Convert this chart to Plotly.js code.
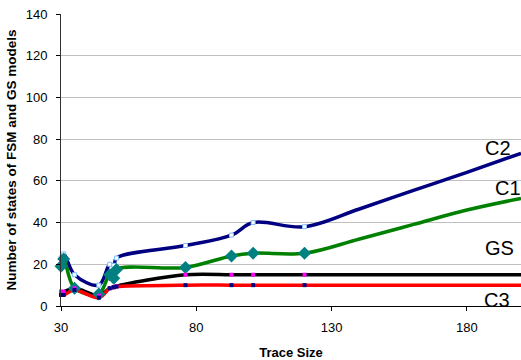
<!DOCTYPE html>
<html>
<head>
<meta charset="utf-8">
<script src="https://cdn.plot.ly/plotly-3.0.1.min.js"></script>
<style>
  html, body { margin: 0; padding: 0; background: #fff; }
  #chart { width: 521px; height: 360px; }
</style>
</head>
<body>
<div id="chart"></div>
<script>
// Trace sizes (x values)
const traceSizes = [30, 31, 35, 44, 48, 49.5, 50.5, 76, 93, 101, 120, 140, 160, 180, 200];
// Number of measured points that carry markers
const markedCount = 11;
// Series values
const c2 = [23, 25, 15, 10, 20, 19.5, 23, 29, 34, 40, 38, 46.4, 55.3, 64.1, 73.2];
const c1 = [19, 22.5, 8.5, 5.8, 15, 13.3, 17.5, 18.5, 24, 25.3, 25.3, 32, 39, 46, 51.6];
const gs = [6.9, 6.9, 8.5, 5, 8.5, 9, 9.5, 15, 15, 15, 15, 15, 15, 15, 15];
const c3 = [5.3, 5.3, 7.7, 4, 8.5, 9, 9.3, 10, 10, 10, 10, 10, 10, 10, 10];
// Series labels
const seriesNames = ['C2', 'C1', 'GS', 'C3'];
const labelX = [191.5, 195.2, 191.9, 191.1];
const labelY = [75.8, 56.6, 27.8, 2.9];
// Axis tick labels
const yTicks = [0, 20, 40, 60, 80, 100, 120, 140];
const xTicks = [30, 80, 130, 180];

const series = [
  {name: 'C2', y: c2, line: '#000080', marker: {symbol: 'square', size: 4, color: '#ffffff', line: {color: '#80c0ff', width: 1}}},
  {name: 'C1', y: c1, line: '#008000', marker: {symbol: 'diamond', size: 10, color: '#008080', line: {width: 0}}},
  {name: 'GS', y: gs, line: '#000000', marker: {symbol: 'square', size: 4, color: '#ff00ff', line: {width: 0}}},
  {name: 'C3', y: c3, line: '#ff0000', marker: {symbol: 'square', size: 4, color: '#000080', line: {width: 0}}}
];

const traces = [];
series.forEach(s => {
  traces.push({
    x: traceSizes, y: s.y, type: 'scatter', mode: 'lines', name: s.name,
    line: {color: s.line, width: 3.5, shape: 'spline', smoothing: 1},
    hoverinfo: 'skip', showlegend: false
  });
});
series.forEach(s => {
  traces.push({
    x: traceSizes.slice(0, markedCount), y: s.y.slice(0, markedCount),
    type: 'scatter', mode: 'markers', name: s.name + ' points',
    marker: s.marker, showlegend: false, cliponaxis: false
  });
});

const annotations = seriesNames.map((n, i) => ({
  x: labelX[i], y: labelY[i], xref: 'x', yref: 'y', text: n, showarrow: false,
  font: {family: 'Liberation Sans, Arial, sans-serif', size: 20, color: '#000'},
  xanchor: 'center', yanchor: 'middle'
}));

const layout = {
  width: 521, height: 360,
  margin: {l: 61, r: 0, t: 14, b: 54},
  paper_bgcolor: '#ffffff', plot_bgcolor: '#ffffff',
  font: {family: 'Liberation Sans, Arial, sans-serif', size: 13, color: '#000'},
  showlegend: false,
  xaxis: {
    range: [30, 200], tickvals: xTicks, ticktext: xTicks.map(String),
    showgrid: false, zeroline: false,
    showline: true, linecolor: '#000', linewidth: 1,
    ticks: 'outside', ticklen: 4, tickcolor: '#000', ticklabelstandoff: 5,
    title: {text: 'Trace Size', font: {size: 13, weight: 'bold', color: '#000'}, standoff: 15}
  },
  yaxis: {
    range: [0, 140], tickvals: yTicks, ticktext: yTicks.map(String),
    showgrid: true, gridcolor: '#c0c0c0', gridwidth: 1, zeroline: false,
    showline: true, linecolor: '#303030', linewidth: 1,
    ticks: 'outside', ticklen: 4, tickcolor: '#000', ticklabelstandoff: 6,
    title: {text: 'Number of states of FSM and GS models', font: {size: 13.5, weight: 'bold', color: '#000'}, standoff: 5}
  },
  annotations: annotations
};

Plotly.newPlot('chart', traces, layout, {staticPlot: true, displayModeBar: false});
</script>
</body>
</html>
